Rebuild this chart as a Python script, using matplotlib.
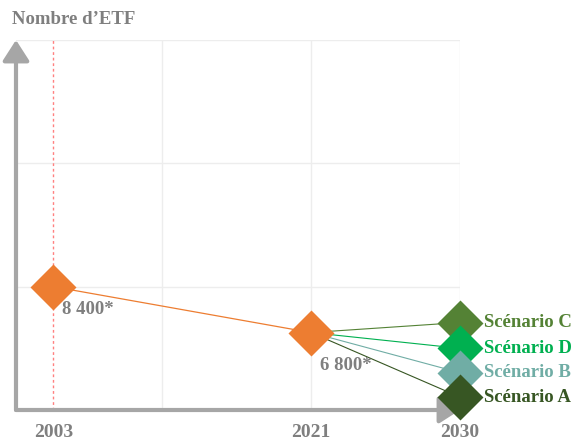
import matplotlib.pyplot as plt
from matplotlib.patches import FancyArrowPatch

plt.rcParams['font.family'] = ['Liberation Serif', 'DejaVu Serif']
plt.rcParams['font.weight'] = 'bold'

# years shown on the x axis and their positions (schematic, not to scale)
years = ['2003', '2021', '2030']
x_pos = [0.27, 2, 3]

# historical number of ETFs
hist_x = [0.27, 2]
hist_y = [8400, 6800]
hist_labels = ['8 400*', '6 800*']

# 2030 scenarios
scenarios = ['Scénario C', 'Scénario D', 'Scénario B', 'Scénario A']
scen_y = [7150, 6250, 5400, 4550]
scen_colors = ['#548235', '#00b050', '#70ada5', '#375623']

grid_x = [1, 2, 3]
grid_y = [8400, 12700, 17000]

orange = '#ed7d31'
grey = '#7f7f7f'
axis_grey = '#a6a6a6'

fig = plt.figure(figsize=(5.73, 4.41), dpi=100)
ax = fig.add_axes([16 / 573, 31 / 441, 444 / 573, 370 / 441])
ax.set_xlim(0.02, 3)
ax.set_ylim(4100, 17000)
for s in ax.spines.values():
    s.set_visible(False)

for gx in grid_x:
    ax.axvline(gx, color='#ededed', lw=1, zorder=0)
for gy in grid_y:
    ax.axhline(gy, color='#ededed', lw=1, zorder=0)

ax.axvline(x_pos[0], color='#ff8080', lw=1, ls=(0, (2, 2)), zorder=1)

# history line and scenario fan
ax.plot(hist_x, hist_y, color=orange, lw=0.9, zorder=2)
for y, c in zip(scen_y, scen_colors):
    ax.plot([hist_x[1], x_pos[2]], [hist_y[1], y], color=c, lw=0.8, zorder=2)

ax.plot(hist_x, hist_y, 'D', color=orange, ms=23, mec='none', zorder=3,
        clip_on=False)
for y, c in zip(scen_y, scen_colors):
    ax.plot([x_pos[2]], [y], 'D', color=c, ms=23, mec='none', zorder=3,
            clip_on=False)

ax.text(hist_x[0] + 0.06, hist_y[0] - 800, hist_labels[0], color=grey,
        fontsize=13.5, ha='left', va='center')
ax.text(hist_x[1] + 0.06, hist_y[1] - 1150, hist_labels[1], color=grey,
        fontsize=13.5, ha='left', va='center')

for name, y, c in zip(scenarios, scen_y, scen_colors):
    ax.text(x_pos[2] + 0.16, y, name, color=c, fontsize=13.5,
            ha='left', va='center', clip_on=False)

ax.set_xticks(x_pos)
ax.set_xticklabels(years, color=grey, fontsize=14)
ax.tick_params(axis='x', length=0, pad=10)
ax.set_yticks([])

# axis arrows
for start, end in [((0, 0), (1, 0)), ((0, 0), (0, 1))]:
    arr = FancyArrowPatch(start, end, transform=ax.transAxes,
                          arrowstyle='-|>,head_length=0.7,head_width=0.45',
                          mutation_scale=18, color=axis_grey, lw=3,
                          shrinkA=0, shrinkB=0, clip_on=False, zorder=2.5)
    ax.add_patch(arr)

fig.text(12 / 573, 1 - 20 / 441, 'Nombre d’ETF', color=grey, fontsize=13.5,
         ha='left', va='center')

fig.savefig('out.png', dpi=100)
